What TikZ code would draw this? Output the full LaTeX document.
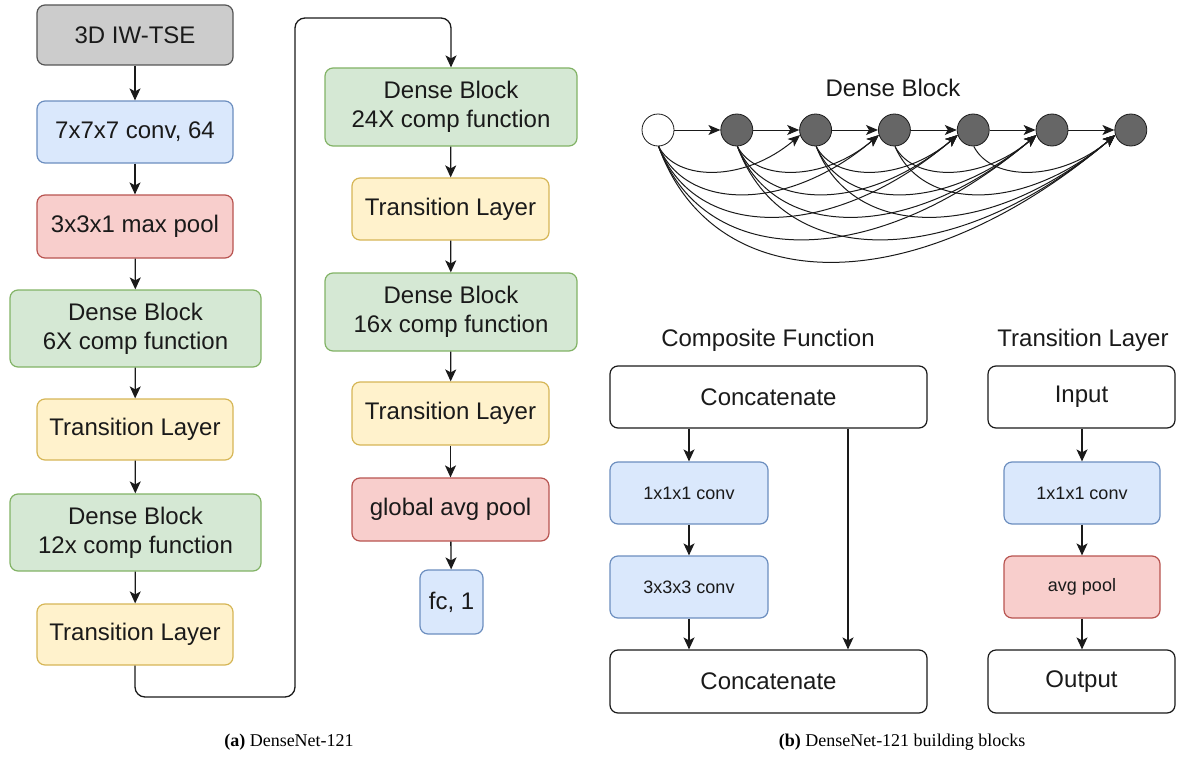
\documentclass[tikz,border=0pt]{standalone}
\usepackage{fontspec}
\setmainfont{Liberation Sans}
\newfontfamily\capserif{Liberation Serif}
\usetikzlibrary{arrows.meta,calc}

\definecolor{grayfill}{HTML}{CCCCCC}
\definecolor{graydraw}{HTML}{555555}
\definecolor{bluefill}{HTML}{DAE8FC}
\definecolor{bluedraw}{HTML}{6C8EBF}
\definecolor{redfill}{HTML}{F8CECC}
\definecolor{reddraw}{HTML}{B85450}
\definecolor{greenfill}{HTML}{D5E8D4}
\definecolor{greendraw}{HTML}{82B366}
\definecolor{yellowfill}{HTML}{FFF2CC}
\definecolor{yellowdraw}{HTML}{D6B656}
\definecolor{inkc}{HTML}{1A1A1A}
\definecolor{dotfill}{HTML}{666666}

\tikzset{
  box/.style={rectangle, rounded corners=8pt, line width=1.2pt, inner sep=0pt,
    align=center, text=inkc, font=\fontsize{24}{29}\selectfont},
  smallbox/.style={box, font=\fontsize{18}{22}\selectfont},
  sz/.style 2 args={minimum width=#1, minimum height=#2},
  graybox/.style={fill=grayfill, draw=graydraw},
  bluebox/.style={fill=bluefill, draw=bluedraw},
  redbox/.style={fill=redfill, draw=reddraw},
  greenbox/.style={fill=greenfill, draw=greendraw},
  yellowbox/.style={fill=yellowfill, draw=yellowdraw},
  plainbox/.style={fill=white, draw=inkc},
  arr/.style={draw=inkc, line width=1.3pt, -{Stealth[length=12pt,width=11pt,inset=3pt]}},
  thinarr/.style={draw=inkc, line width=1pt, -{Stealth[length=12pt,width=10pt,inset=3pt]}},
  dot/.style={circle, minimum size=32, inner sep=0pt, line width=0.8pt, draw=inkc},
  heading/.style={text=inkc, font=\fontsize{24}{29}\selectfont},
  caption/.style={text=black, font=\capserif\fontsize{18}{22}\selectfont}
}

\begin{document}
\begin{tikzpicture}[x=1pt, y=-1pt]
\useasboundingbox (0,0) rectangle (1183,760);

% ---------- DenseNet-121, first column ----------
\node[box, graybox,   sz={196}{60}] (inp0) at (135,35)    {3D IW-TSE};
\node[box, bluebox,   sz={196}{62}] (c7)   at (135,132)   {7x7x7 conv, 64};
\node[box, redbox,    sz={196}{63}] (mp)   at (135,226.5) {3x3x1 max pool};
\node[box, greenbox,  sz={251}{77}] (db6)  at (135.5,328.5) {Dense Block\\6X comp function};
\node[box, yellowbox, sz={196}{61}] (tl1)  at (135,429.5) {Transition Layer};
\node[box, greenbox,  sz={251}{77}] (db12) at (135.5,532.5) {Dense Block\\12x comp function};
\node[box, yellowbox, sz={196}{61}] (tl2)  at (135,634.5) {Transition Layer};

% ---------- DenseNet-121, second column ----------
\node[box, greenbox,  sz={252}{78}] (db24) at (451,107)   {Dense Block\\24X comp function};
\node[box, yellowbox, sz={197}{62}] (tl3)  at (450.5,209) {Transition Layer};
\node[box, greenbox,  sz={252}{78}] (db16) at (451,312)   {Dense Block\\16x comp function};
\node[box, yellowbox, sz={197}{63}] (tl4)  at (450.5,413.5) {Transition Layer};
\node[box, redbox,    sz={197}{63}] (gap)  at (450.5,509.5) {global avg pool};
\node[box, bluebox,   sz={63}{64}]  (fc)   at (451.5,602) {fc, 1};

\foreach \a/\b in {inp0/c7, c7/mp, mp/db6, db6/tl1, tl1/db12, db12/tl2,
                   db24/tl3, tl3/db16, db16/tl4, tl4/gap, gap/fc}
  \draw[arr] (\a) -- (\b);

% wrap-around link between the two columns
\coordinate (wrapLow) at (295,697);
\coordinate (wrapHigh) at (295,18);
\draw[arr, rounded corners=10pt] (tl2.south) -- (tl2.south |- wrapLow) -- (wrapLow)
  -- (wrapHigh) -- (db24.north |- wrapHigh) -- (db24.north);

% ---------- Dense Block ----------
\node[heading] (dbTitle) at (893,88) {Dense Block};
\node[dot, fill=white] (n0) at (658,130) {};
\foreach \i in {1,...,6}{
  \pgfmathsetmacro{\xx}{658+78.8*\i}
  \node[dot, fill=dotfill] (n\i) at (\xx,130) {};
}
\foreach \i [evaluate=\i as \j using int(\i+1)] in {0,...,5}
  \draw[thinarr] (n\i) -- (n\j);
% skip connections: every layer feeds every later layer
\foreach \i in {0,...,4}{
  \pgfmathtruncatemacro{\first}{\i+2}
  \foreach \j in {\first,...,6}{
    \pgfmathsetmacro{\xa}{658+78.8*\i}
    \pgfmathsetmacro{\xb}{658+78.8*\j}
    \pgfmathsetmacro{\len}{\xb-\xa}
    \pgfmathsetmacro{\hh}{146+36+30*(\j-\i-2)}
    \pgfmathsetmacro{\ca}{\xa+0.12*\len}
    \pgfmathsetmacro{\cb}{\xb-0.45*\len}
    \draw[thinarr] (n\i.-88) .. controls (\ca,\hh) and (\cb,\hh) .. (n\j.-162);
  }
}

% ---------- Composite Function ----------
\node[heading] (cfTitle) at (768,340) {Composite Function};
\node[box, plainbox,  sz={317}{62}] (cat1) at (768.5,397)   {Concatenate};
\node[smallbox, bluebox, sz={158}{62}] (cv1) at (689,493) {1x1x1 conv};
\node[smallbox, bluebox, sz={158}{62}] (cv3) at (689,587) {3x3x3 conv};
\node[box, plainbox,  sz={317}{63}] (cat2) at (768.5,681.5) {Concatenate};
\coordinate (skip) at (848,0);
\draw[arr] (cv1.north |- cat1.south) -- (cv1.north);
\draw[arr] (cv1) -- (cv3);
\draw[arr] (cv3.south) -- (cv3.south |- cat2.north);
\draw[arr] (cat1.south -| skip) -- (cat2.north -| skip);

% ---------- Transition Layer ----------
\node[heading] (tlTitle) at (1083,340) {Transition Layer};
\node[box, plainbox, sz={187}{62}] (tin)  at (1081.5,397)   {Input};
\node[smallbox, bluebox, sz={156}{62}] (tcv) at (1082,493) {1x1x1 conv};
\node[smallbox, redbox,  sz={156}{62}] (tap) at (1082,587) {avg pool};
\node[box, plainbox, sz={187}{63}] (tout) at (1081.5,681.5) {Output};
\draw[arr] (tcv.north |- tin.south) -- (tcv.north);
\draw[arr] (tcv) -- (tap);
\draw[arr] (tap.south) -- (tap.south |- tout.north);

% ---------- captions ----------
\node[caption, anchor=base] (capA) at (289,746) {\textbf{(a)} DenseNet-121};
\node[caption, anchor=base] (capB) at (902,746) {\textbf{(b)} DenseNet-121 building blocks};
\end{tikzpicture}
\end{document}
